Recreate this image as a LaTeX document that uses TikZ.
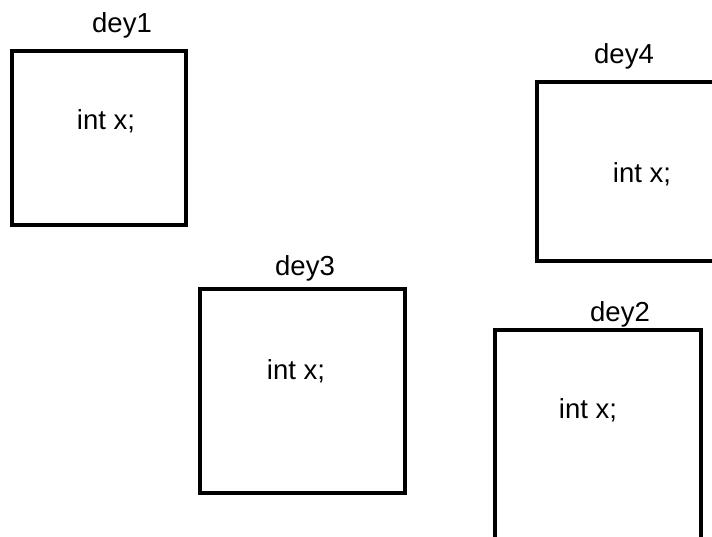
\documentclass[tikz,border=0pt]{standalone}
\usepackage{fontspec}
\setmainfont{Liberation Sans}
\usetikzlibrary{positioning}

\begin{document}
\begin{tikzpicture}[x=1pt, y=-1pt, font=\fontsize{27.5}{32}\selectfont]
        \tikzstyle{objbox}=[draw, line width=4.5pt, inner sep=0pt, outer sep=0pt]
        \tikzstyle{objname}=[inner sep=0pt]
        \tikzstyle{member}=[inner sep=0pt]

        % Page frame
        \useasboundingbox (0,0) rectangle (712,536);

        % Boxes of the four objects
        \node[objbox, minimum width=174pt, minimum height=174pt] (box1) at (99,138) {};
        \node[objbox, minimum width=177pt, minimum height=179pt] (box4) at (625.5,171.5) {};
        \node[objbox, minimum width=205pt, minimum height=204pt] (box3) at (302.5,391) {};
        \node[objbox, minimum width=206pt, minimum height=210pt] (box2) at (598,435) {};

        % Names above the boxes
        \node[objname] (dey1) at (122,25) {dey1};
        \node[objname] (dey4) at (624,56) {dey4};
        \node[objname] (dey3) at (305,268) {dey3};
        \node[objname] (dey2) at (620,314) {dey2};

        % Members inside
        \node[member] (x1) at (106,121) {int x;};
        \node[member] (x4) at (642,174) {int x;};
        \node[member] (x3) at (296,371) {int x;};
        \node[member] (x2) at (588,410) {int x;};
\end{tikzpicture}
\end{document}
